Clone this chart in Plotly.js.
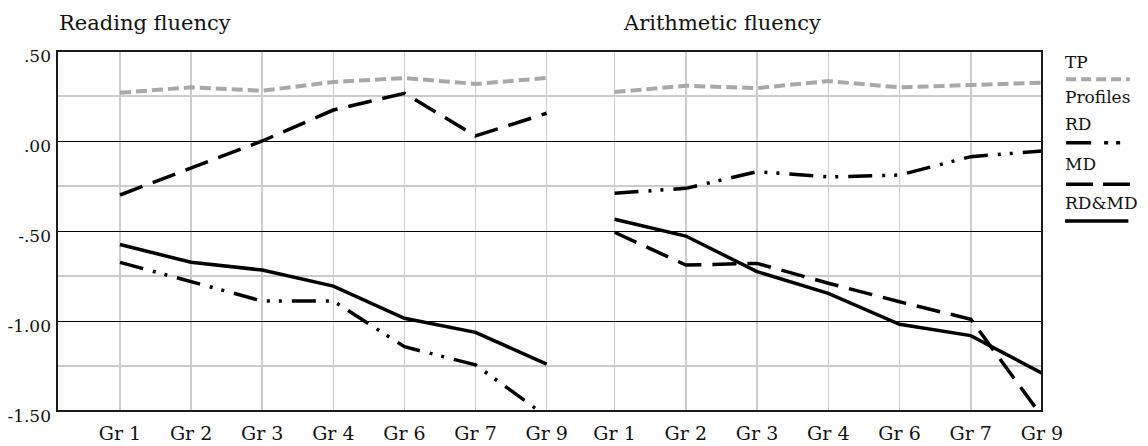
<!DOCTYPE html>
<html>
<head>
<meta charset="utf-8">
<script src="https://cdn.plot.ly/plotly-3.0.1.min.js"></script>
<style>html,body{margin:0;padding:0;background:#fff;}#chart{width:1148px;height:446px;}</style>
</head>
<body>
<div id="chart"></div>
<script>
// ---- data ----
const grades = ['Gr 1', 'Gr 2', 'Gr 3', 'Gr 4', 'Gr 6', 'Gr 7', 'Gr 9'];
const readTP   = [0.268, 0.298, 0.279, 0.328, 0.350, 0.317, 0.350];
const readRD   = [-0.674, -0.780, -0.889, -0.889, -1.143, -1.244, -1.530];
const readMD   = [-0.300, -0.152, 0.000, 0.172, 0.265, 0.028, 0.154];
const readRDMD = [-0.575, -0.674, -0.717, -0.806, -0.985, -1.063, -1.240];
const arithTP   = [0.272, 0.307, 0.294, 0.333, 0.298, 0.309, 0.324];
const arithRD   = [-0.290, -0.263, -0.170, -0.200, -0.189, -0.087, -0.056];
const arithMD   = [-0.507, -0.689, -0.680, -0.790, -0.893, -0.990, -1.530];
const arithRDMD = [-0.435, -0.528, -0.726, -0.846, -1.018, -1.081, -1.290];
const panelTitles = ['Reading fluency', 'Arithmetic fluency'];
const yTickVals = [0.5, 0, -0.5, -1, -1.5];
const yTickText = ['.50', '.00', '-.50', '-1.00', '-1.50'];
const yMinorVals = [0.25, -0.25, -0.75, -1.25];
const legendNames = ['TP', 'Profiles', 'RD', 'MD', 'RD&amp;MD'];

// ---- styles ----
const FONT = 'DejaVu Serif';
const styles = {
  TP:   {color: '#a8a8a8', width: 4, dash: '11px,5px'},
  RD:   {color: '#000000', width: 3.5, dash: '24px,10px,3px,9px,3px,10px'},
  MD:   {color: '#000000', width: 3.5, dash: '24px,11px'},
  RDMD: {color: '#000000', width: 3.5, dash: 'solid'}
};

function tr(y, xa, st) {
  return {x: grades, y: y, xaxis: xa, yaxis: 'y', type: 'scatter', mode: 'lines',
          line: st, showlegend: false, hoverinfo: 'skip'};
}
const traces = [
  tr(readTP, 'x', styles.TP), tr(readRD, 'x', styles.RD), tr(readMD, 'x', styles.MD), tr(readRDMD, 'x', styles.RDMD),
  tr(arithTP, 'x2', styles.TP), tr(arithRD, 'x2', styles.RD), tr(arithMD, 'x2', styles.MD), tr(arithRDMD, 'x2', styles.RDMD)
];

const split = 0.5316;
const xCommon = {
  type: 'category', showgrid: true, gridcolor: '#cccccc', gridwidth: 1.5,
  zeroline: false, showline: false, ticks: '', ticklabelstandoff: 9,
  tickfont: {family: FONT, size: 19, color: '#111'}, anchor: 'y', fixedrange: true
};

const legendFont = {family: FONT, size: 17, color: '#111'};
const annotations = [
  {text: panelTitles[0], xref: 'paper', yref: 'paper', x: 0.0, y: 1.078, xanchor: 'left', yanchor: 'middle',
   showarrow: false, font: {family: FONT, size: 21, color: '#111'}},
  {text: panelTitles[1], xref: 'paper', yref: 'paper', x: 0.5726, y: 1.078, xanchor: 'left', yanchor: 'middle',
   showarrow: false, font: {family: FONT, size: 21, color: '#111'}}
];
const legendY = [0.9708, 0.8722, 0.797, 0.686, 0.579];
legendNames.forEach(function (n, i) {
  annotations.push({text: n, xref: 'paper', yref: 'paper', x: 1.0215, y: legendY[i], xanchor: 'left',
    yanchor: 'middle', showarrow: false, font: legendFont});
});

function keyLine(x0, x1, y, st, dash) {
  return {type: 'line', xref: 'paper', yref: 'paper', x0: x0, x1: x1, y0: y, y1: y,
          line: {color: st.color, width: st.width, dash: dash}};
}
const shapes = [
  {type: 'rect', xref: 'paper', yref: 'paper', x0: 0, x1: 1, y0: 0, y1: 1,
   line: {color: '#1a1a1a', width: 2}},
  keyLine(1.0245, 1.0891, 0.9214, styles.TP, '10px,5px'),
  keyLine(1.0245, 1.0803, 0.7453, styles.RD, '25px,13px,4px,8px,4px,20px'),
  keyLine(1.0244, 1.0893, 0.6297, styles.MD, '27px,10px'),
  keyLine(1.0234, 1.0877, 0.5278, styles.RDMD, 'solid')
];

const layout = {
  width: 1148, height: 446,
  margin: {l: 57, r: 106, t: 51, b: 35, pad: 0},
  paper_bgcolor: '#ffffff', plot_bgcolor: '#ffffff',
  showlegend: false, hovermode: false,
  xaxis: Object.assign({}, xCommon, {domain: [0, split], range: [-0.886, 6.478]}),
  xaxis2: Object.assign({}, xCommon, {domain: [split, 1], range: [-0.476, 6]}),
  yaxis: {
    range: [-1.5, 0.5], anchor: 'x', tickmode: 'array', tickvals: yTickVals, ticktext: yTickText,
    showgrid: true, gridcolor: '#000000', gridwidth: 1, zeroline: false, showline: false,
    ticks: '', ticklabelstandoff: 5, ticklabelshift: 5,
    tickfont: {family: FONT, size: 17, color: '#111'}, fixedrange: true,
    minor: {tickmode: 'array', tickvals: yMinorVals, showgrid: true, gridcolor: '#cccccc', gridwidth: 1.5, ticks: ''}
  },
  annotations: annotations,
  shapes: shapes
};

Plotly.newPlot('chart', traces, layout, {displayModeBar: false, staticPlot: true});
</script>
</body>
</html>
